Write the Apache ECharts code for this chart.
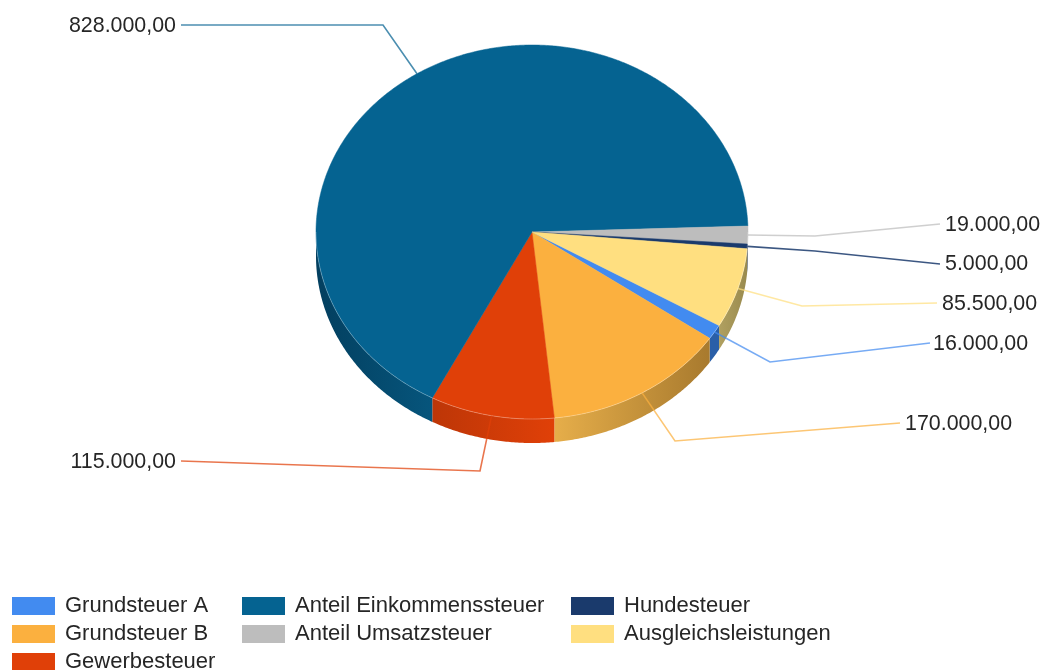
<!DOCTYPE html>
<html><head><meta charset="utf-8">
<style>html,body{margin:0;padding:0;background:#fff}#c{width:1045px;height:670px}</style>
<script src="https://cdn.jsdelivr.net/npm/echarts@6/dist/echarts.min.js"></script>
</head><body><div id="c"></div>
<script>
// ---- data (in drawing order, clockwise) ----
const categories = ['Grundsteuer A','Grundsteuer B','Gewerbesteuer','Anteil Einkommenssteuer','Anteil Umsatzsteuer','Hundesteuer','Ausgleichsleistungen'];
const values = [16000,170000,115000,828000,19000,5000,85500];
// ---- styles ----
const colors = ['#428bf0','#fbb03f','#e04008','#056391','#bdbdbd','#1a3a6c','#ffdf80'];
const wallLeft = ['#2a5fa8','#e6ae4a','#bd3607','#033f5f','#8a8a8a','#12284c','#b0a060'];
const wallRight = ['#2a5fa8','#a87a2e','#e04008','#06557c','#8a8a8a','#12284c','#998a4e'];
// ---- layout ----
const CX = 532, CY = 232, RX = 216, RY = 187, DEPTH = 24, START_DEG = 30;
const elbows = [[770,362],[675,441],[480,471],[383,25],[815,236],[815,251],[802,306]];
const lineEnds = [[930,343],[900,423],[181,461],[181,25],[940,224],[940,264],[937,303]];
const labelPos = [[933,344,'left'],[905,424,'left'],[176,462,'right'],[176,26,'right'],[945,225,'left'],[945,264,'left'],[942,304,'left']];
const FONT = '"Liberation Sans", Arial, sans-serif';

const total = values.reduce((a,b)=>a+b,0);
const fmt = v => String(v).replace(/\B(?=(\d{3})+$)/g,'.') + ',00';
const pt = (deg,dy=0) => { const r = deg*Math.PI/180; return [CX+RX*Math.cos(r), CY+RY*Math.sin(r)+dy]; };
const arc = (a,b,dy=0) => { const n = Math.max(2,Math.ceil(Math.abs(b-a))*2), out=[]; for(let i=0;i<=n;i++) out.push(pt(a+(b-a)*i/n,dy)); return out; };

function renderer(idx){
  return function(params, api){
    const v = api.value(0);
    let before = 0; for(let i=0;i<idx;i++) before += values[i];
    const a0 = START_DEG + before/total*360, a1 = a0 + v/total*360, mid=(a0+a1)/2;
    const children = [];
    const ranges = [[0,180],[360,540]];
    ranges.forEach(([lo,hi])=>{
      const s=Math.max(a0,lo), e=Math.min(a1,hi);
      if(e>s){
        const top=arc(s,e), bot=arc(s,e,DEPTH).reverse();
        const xs=top.concat(bot).map(p=>p[0]);
        children.push({type:'polygon',z2:1,shape:{points:top.concat(bot)},style:{
          fill:{type:'linear',global:true,x:Math.min(...xs),y:0,x2:Math.max(...xs),y2:0,
            colorStops:[{offset:0,color:wallLeft[idx]},{offset:1,color:wallRight[idx]}]}}});
      }
    });
    children.push({type:'polygon',z2:2,shape:{points:[[CX,CY]].concat(arc(a0,a1))},
      style:{fill:colors[idx],stroke:colors[idx],lineWidth:0.5}});
    ranges.forEach(([lo,hi])=>{
      const s=Math.max(a0,lo), e=Math.min(a1,hi);
      if(e>s) children.push({type:'polyline',z2:3,shape:{points:arc(s,e)},
        style:{fill:null,stroke:'rgba(255,255,255,0.28)',lineWidth:1}});
    });
    children.push({type:'polyline',z2:4,shape:{points:[pt(mid),elbows[idx],lineEnds[idx]]},
      style:{fill:null,stroke:colors[idx],lineWidth:1.6,opacity:idx===5?0.85:0.72}});
    children.push({type:'text',z2:5,style:{text:fmt(v),x:labelPos[idx][0],y:labelPos[idx][1],
      align:labelPos[idx][2],verticalAlign:'middle',fill:'#262626',font:'21.4px '+FONT}});
    return {type:'group',children};
  };
}

const legendBase = {orient:'vertical',icon:'rect',itemWidth:43,itemHeight:18,itemGap:6,padding:0,top:595,height:120,
  selectedMode:false,textStyle:{fontFamily:FONT,fontSize:22,color:'#262626',padding:[6,0,0,5]}};

const chart = echarts.init(document.getElementById('c'),null,{renderer:'canvas'});
chart.setOption({
  animation:false,
  backgroundColor:'#fff',
  legend:[
    Object.assign({},legendBase,{left:12,data:categories.slice(0,3)}),
    Object.assign({},legendBase,{left:242,data:categories.slice(3,5)}),
    Object.assign({},legendBase,{left:571,data:categories.slice(5,7)})
  ],
  series:categories.map((name,i)=>({
    type:'custom',name,coordinateSystem:'none',silent:true,
    itemStyle:{color:colors[i]},
    data:[[values[i]]],
    renderItem:renderer(i)
  }))
});
</script></body></html>
